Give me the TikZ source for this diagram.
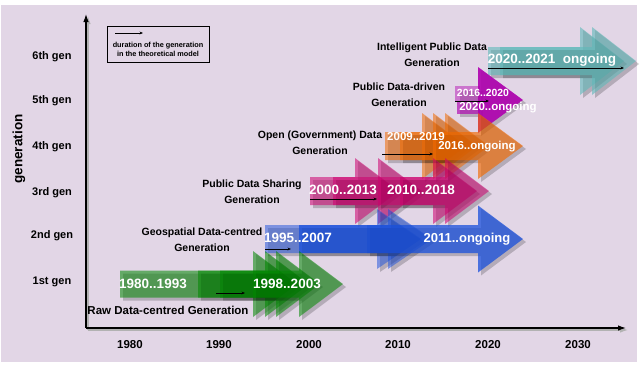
\documentclass[tikz,border=0pt]{standalone}
\usepackage{fontspec}
\setmainfont{Liberation Sans}
\usetikzlibrary{arrows.meta}
\definecolor{bgpanel}{RGB}{226,214,230}
\definecolor{cgreen}{RGB}{0,135,0}
\definecolor{cblue}{RGB}{25,80,220}
\definecolor{cmag}{RGB}{205,0,110}
\definecolor{corange}{RGB}{240,105,0}
\definecolor{cpurple}{RGB}{175,0,175}
\definecolor{cteal}{RGB}{95,185,185}
\newcommand\blockarr[8]{%
  \fill[black, fill opacity=0.2, shift={(3,3)}] (#3,{#5-#6}) -- (#4,{#5-#6}) -- (#4,{#5-#7}) -- ({#4+#8},#5) -- (#4,{#5+#7}) -- (#4,{#5+#6}) -- (#3,{#5+#6}) -- cycle;
  \fill[#1, fill opacity=#2] (#3,{#5-#6}) -- (#4,{#5-#6}) -- (#4,{#5-#7}) -- ({#4+#8},#5) -- (#4,{#5+#7}) -- (#4,{#5+#6}) -- (#3,{#5+#6}) -- cycle;
}
\tikzset{
  genlab/.style={font=\fontsize{11}{12}\selectfont\bfseries, inner sep=0},
  yearlab/.style={font=\fontsize{11.5}{12}\selectfont\bfseries, inner sep=0},
  catlab/.style={font=\fontsize{10.5}{16}\selectfont\bfseries, align=center, inner sep=0},
  wlab/.style={text=white, font=\fontsize{13.5}{15}\selectfont\bfseries, inner sep=0},
  durarr/.style={-{Stealth[length=3.5pt,width=2.8pt]}, line width=0.7pt},
  axisline/.style={-{Latex[length=8pt,width=5.5pt]}, line width=1.1pt}
}
\begin{document}
\begin{tikzpicture}[x=1pt,y=-1pt]
\useasboundingbox (0,0) rectangle (640,378);
\fill[white] (0,0) rectangle (640,378);
\fill[bgpanel] (1,5) rectangle (637,362);

% axes
\coordinate (o) at (86,328);
\coordinate (ytop) at (86,14);
\coordinate (xend) at (626,328);
\coordinate (os) at (88,330);
\coordinate (ytops) at (88,16);
\coordinate (xends) at (628,330);
\draw[axisline, black!30] (os) -- (ytops);
\draw[axisline, black!30] (os) -- (xends);
\draw[axisline] (o) -- (ytop);
\draw[axisline] (o) -- (xend);

% year labels
\node[yearlab] (y1980) at (130,345) {1980};
\node[yearlab] (y1990) at (219,345) {1990};
\node[yearlab] (y2000) at (309,345) {2000};
\node[yearlab] (y2010) at (398,345) {2010};
\node[yearlab] (y2020) at (488,345) {2020};
\node[yearlab] (y2030) at (578,345) {2030};

% generation labels
\node[genlab] (g6) at (52,57) {6th gen};
\node[genlab] (g5) at (52,101) {5th gen};
\node[genlab] (g4) at (52,147) {4th gen};
\node[genlab] (g3) at (52,193) {3rd gen};
\node[genlab] (g2) at (52,236) {2nd gen};
\node[genlab] (g1) at (52,282) {1st gen};
\node[font=\fontsize{13.5}{14}\selectfont\bfseries, rotate=90, inner sep=0] (genaxis) at (19,149) {generation};

% legend
\draw[line width=1pt] (107,26) rectangle (209,62);
\coordinate (lga) at (115,33);
\coordinate (lgb) at (143,33);
\draw[durarr] (lga) -- (lgb);
\node[font=\fontsize{7.3}{9}\selectfont\bfseries, align=center, inner sep=0] (legtext) at (158,49.5) {duration of the generation\\in the theoretical model};

% 6th gen (teal)
\blockarr{cteal}{0.6}{488}{580}{61}{14}{34}{44}
\blockarr{cteal}{0.6}{500}{592}{61}{14}{34}{44}
% 5th gen (purple)
\fill[black, fill opacity=0.2] (460,91) rectangle (483,117);
\fill[cpurple, fill opacity=0.45] (455,86) rectangle (480,101);
\fill[cpurple, fill opacity=0.65] (457,101) rectangle (480,114);
\fill[black, fill opacity=0.2] (481,70) -- (526,103) -- (481,136) -- cycle;
\fill[cpurple, fill opacity=0.9] (478,67) -- (523,100) -- (478,133) -- cycle;
% 4th gen (orange)
\blockarr{corange}{0.55}{385}{422}{146}{14}{33}{44}
\blockarr{corange}{0.55}{400}{433}{146}{14}{33}{44}
\blockarr{corange}{0.55}{422}{445}{146}{14}{33}{44}
\blockarr{corange}{0.65}{433}{478}{146}{14}{33}{45}
% 3rd gen (magenta)
\blockarr{cmag}{0.55}{310}{355}{191}{14}{33}{44}
\blockarr{cmag}{0.55}{333}{378}{191}{14}{33}{44}
\blockarr{cmag}{0.55}{378}{433}{191}{14}{33}{44}
\blockarr{cmag}{0.55}{400}{445}{191}{14}{33}{44}
% 2nd gen (blue)
\blockarr{cblue}{0.5}{265}{377}{239}{14}{30}{44}
\blockarr{cblue}{0.5}{367}{388}{239}{14}{30}{44}
\blockarr{cblue}{0.75}{299}{478}{239}{14}{33.5}{45}
% 1st gen (green)
\blockarr{cgreen}{0.55}{120}{253}{284}{13.5}{33}{44}
\blockarr{cgreen}{0.55}{198}{265}{284}{13.5}{33}{44}
\blockarr{cgreen}{0.55}{220}{276}{284}{13.5}{33}{44}
\blockarr{cgreen}{0.55}{253}{299}{284}{13.5}{33}{44}

% duration arrows
\coordinate (da1) at (216,293); \coordinate (db1) at (245,293);
\coordinate (da2) at (265,249); \coordinate (db2) at (291,249);
\coordinate (da3) at (310,199); \coordinate (db3) at (377,199);
\coordinate (da4) at (382,154); \coordinate (db4) at (433,154);
\coordinate (da5) at (455,101); \coordinate (db5) at (489,101);
\coordinate (da6) at (488,68);  \coordinate (db6) at (624,68);
\draw[durarr] (da1) -- (db1);
\draw[durarr] (da2) -- (db2);
\draw[durarr] (da3) -- (db3);
\draw[durarr] (da4) -- (db4);
\draw[durarr] (da5) -- (db5);
\draw[durarr] (da6) -- (db6);

% white labels
\node[wlab] (w1a) at (153,284) {1980..1993};
\node[wlab] (w1b) at (287,284) {1998..2003};
\node[wlab] (w2a) at (298,238) {1995..2007};
\node[wlab, font=\fontsize{13}{15}\selectfont\bfseries] (w2b) at (467,239) {2011..ongoing};
\node[wlab] (w3a) at (343,190) {2000..2013};
\node[wlab] (w3b) at (421,190) {2010..2018};
\node[wlab, font=\fontsize{11.5}{13}\selectfont\bfseries] (w4a) at (416,137) {2009..2019};
\node[wlab, font=\fontsize{11.5}{13}\selectfont\bfseries] (w4b) at (477,147) {2016..ongoing};
\node[wlab, font=\fontsize{10.4}{12}\selectfont\bfseries] (w5a) at (483,93) {2016..2020};
\node[wlab, font=\fontsize{11.5}{13}\selectfont\bfseries] (w5b) at (498,108) {2020..ongoing};
\node[wlab] (w6) at (552,60) {2020..2021\ \ ongoing};

% category labels
\node[catlab, font=\fontsize{11.5}{14}\selectfont\bfseries] (c1) at (168,310) {Raw Data-centred Generation};
\node[catlab] (c2) at (202,240) {Geospatial Data-centred\\Generation};
\node[catlab] (c3) at (252,192) {Public Data Sharing\\Generation};
\node[catlab] (c4) at (320,142.5) {Open (Government) Data\\Generation};
\node[catlab] (c5) at (399,94.5) {Public Data-driven\\Generation};
\node[catlab] (c6) at (432,54.5) {Intelligent Public Data\\Generation};
\end{tikzpicture}
\end{document}
